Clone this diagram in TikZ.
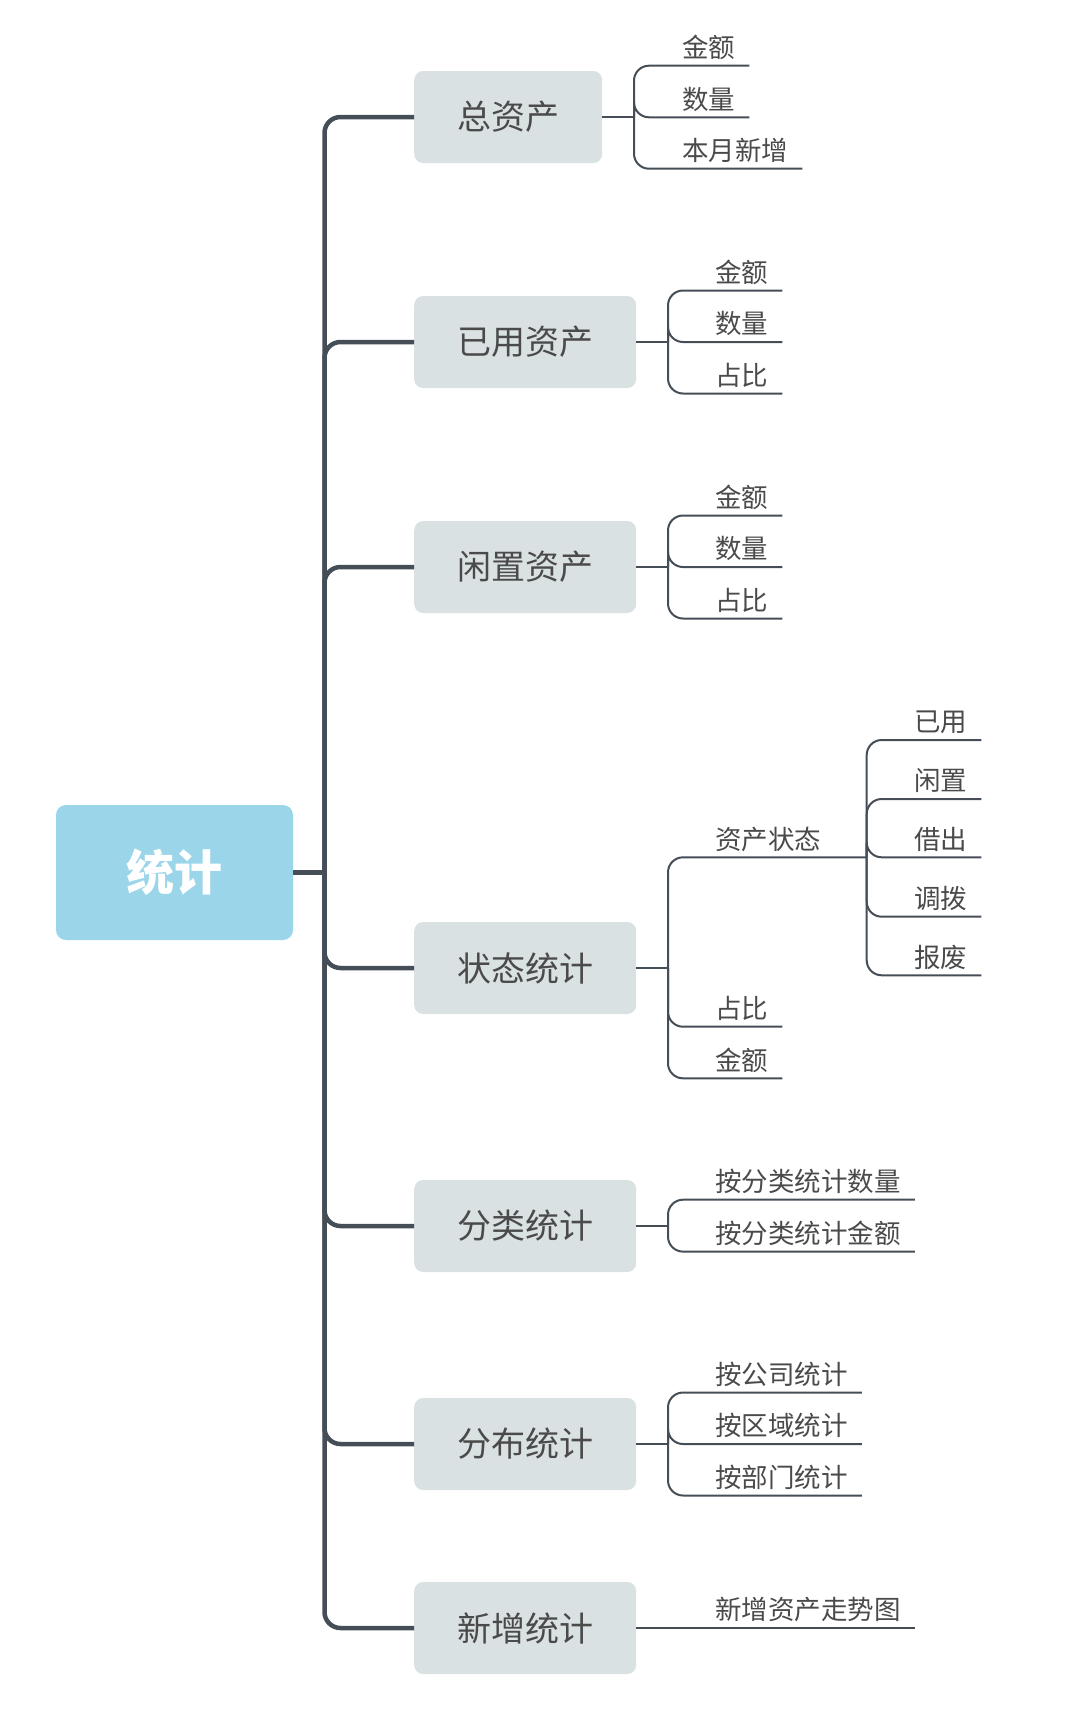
\documentclass[tikz,border=0pt]{standalone}
\usepackage{fontspec}
\newfontfamily\cjk{Noto Sans CJK SC}
\definecolor{linegray}{HTML}{454E57}
\definecolor{textgray}{HTML}{4A4A4A}
\definecolor{topicgray}{HTML}{DAE1E3}
\definecolor{rootblue}{HTML}{9BD5EA}

\begin{document}
\begin{tikzpicture}[x=1pt,y=-1pt,
        rootbox/.style={fill=rootblue,rounded corners=10pt,minimum width=237pt,minimum height=135pt,text=white,font=\cjk\bfseries\fontsize{48}{48}\selectfont},
        topic/.style={fill=topicgray,rounded corners=9pt,minimum height=92pt,inner xsep=43pt,anchor=west,text=textgray,font=\cjk\fontsize{34}{34}\selectfont},
        leaf/.style={inner sep=0pt,text depth=8pt,anchor=south west,text=textgray,font=\cjk\fontsize{26.5}{26.5}\selectfont},
        trunk/.style={draw=linegray,line width=4.5pt,rounded corners=16pt},
        twig/.style={draw=linegray,line width=2pt,rounded corners=15pt}]
            \useasboundingbox (0,0) rectangle (1074,1730);
            % root and main branches
            \node[rootbox] (tongji) at (174.5,872.5) {统计};
            \coordinate (jn) at (324.5,872.5);
            \draw[trunk] (tongji) -- (jn);
            \foreach \n/\y/\t in {zong/117/总资产,yiyong/342/已用资产,xianzhi/567/闲置资产,zhuangtai/968/状态统计,fenlei/1226/分类统计,fenbu/1444/分布统计,xinzeng/1628/新增统计}{
                \node[topic] (\n) at (414,\y) {\t};
                \draw[trunk] (jn) |- (\n.west);
            }
            % 总资产
            \coordinate (zong-b) at (634,117);
            \draw[twig] (zong.east) -- (zong-b);
            \foreach \i/\y/\t in {1/65.7/金额,2/117.3/数量,3/168.7/本月新增}{
                \node[leaf] (zong-\i) at (682,\y) {\t};
                \draw[twig] (zong-b) |- (zong-\i.south west) -- ([xshift=14pt]zong-\i.south east);
            }
            % 已用资产
            \coordinate (yiyong-b) at (668,342);
            \draw[twig] (yiyong.east) -- (yiyong-b);
            \foreach \i/\y/\t in {1/290.5/金额,2/342/数量,3/393.5/占比}{
                \node[leaf] (yiyong-\i) at (715,\y) {\t};
                \draw[twig] (yiyong-b) |- (yiyong-\i.south west) -- ([xshift=14pt]yiyong-\i.south east);
            }
            % 闲置资产
            \coordinate (xianzhi-b) at (668,567);
            \draw[twig] (xianzhi.east) -- (xianzhi-b);
            \foreach \i/\y/\t in {1/515.5/金额,2/567/数量,3/618.5/占比}{
                \node[leaf] (xianzhi-\i) at (715,\y) {\t};
                \draw[twig] (xianzhi-b) |- (xianzhi-\i.south west) -- ([xshift=14pt]xianzhi-\i.south east);
            }
            % 状态统计
            \coordinate (zhuangtai-b) at (668,968);
            \draw[twig] (zhuangtai.east) -- (zhuangtai-b);
            \node[leaf] (zhuangtai-1) at (715,857.3) {资产状态};
            \coordinate (zichan-b) at (866.7,857.3);
            \draw[twig] (zhuangtai-b) |- (zhuangtai-1.south west) -- (zichan-b);
            \foreach \i/\y/\t in {2/1026.7/占比,3/1078.3/金额}{
                \node[leaf] (zhuangtai-\i) at (715,\y) {\t};
                \draw[twig] (zhuangtai-b) |- (zhuangtai-\i.south west) -- ([xshift=14pt]zhuangtai-\i.south east);
            }
            \foreach \i/\y/\t in {1/740/已用,2/799/闲置,3/857.3/借出,4/916.7/调拨,5/975.3/报废}{
                \node[leaf] (zichan-\i) at (914,\y) {\t};
                \draw[twig] (zichan-b) |- (zichan-\i.south west) -- ([xshift=14pt]zichan-\i.south east);
            }
            % 分类统计
            \coordinate (fenlei-b) at (668,1226);
            \draw[twig] (fenlei.east) -- (fenlei-b);
            \foreach \i/\y/\t in {1/1199.7/按分类统计数量,2/1251.6/按分类统计金额}{
                \node[leaf] (fenlei-\i) at (715,\y) {\t};
                \draw[twig] (fenlei-b) |- (fenlei-\i.south west) -- ([xshift=14pt]fenlei-\i.south east);
            }
            % 分布统计
            \coordinate (fenbu-b) at (668,1444);
            \draw[twig] (fenbu.east) -- (fenbu-b);
            \foreach \i/\y/\t in {1/1392.5/按公司统计,2/1444/按区域统计,3/1495.5/按部门统计}{
                \node[leaf] (fenbu-\i) at (715,\y) {\t};
                \draw[twig] (fenbu-b) |- (fenbu-\i.south west) -- ([xshift=14pt]fenbu-\i.south east);
            }
            % 新增统计
            \node[leaf] (xinzeng-1) at (715,1628) {新增资产走势图};
            \draw[twig] (xinzeng.east) -- (xinzeng-1.south west) -- ([xshift=14pt]xinzeng-1.south east);
        \end{tikzpicture}
\end{document}
